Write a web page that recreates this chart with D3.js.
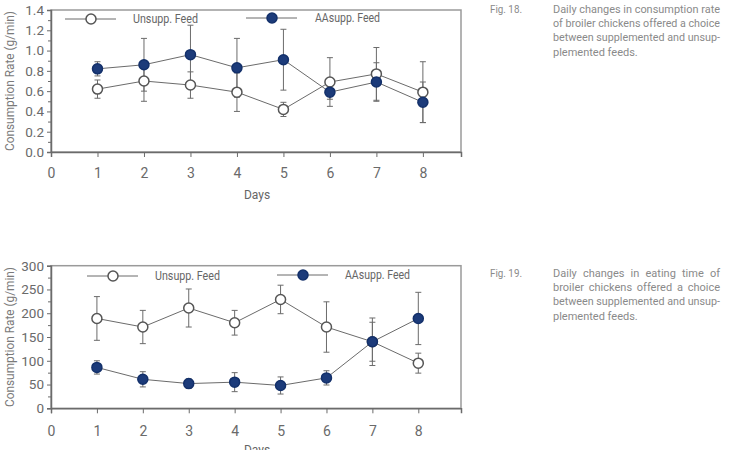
<!DOCTYPE html>
<html>
<head>
<meta charset="utf-8">
<script src="https://cdn.jsdelivr.net/npm/d3@7"></script>
<style>
body { margin: 0; background: #fff; }
svg { display: block; }
</style>
</head>
<body>
<script>
// data
var days = [1, 2, 3, 4, 5, 6, 7, 8];
var dayTicks = [0, 1, 2, 3, 4, 5, 6, 7, 8];

var rateUnsupp = [0.62, 0.70, 0.66, 0.59, 0.42, 0.69, 0.77, 0.59];
var rateUnsuppErr = [0.09, 0.20, 0.13, 0.19, 0.07, 0.24, 0.26, 0.30];
var rateAA = [0.82, 0.86, 0.96, 0.83, 0.91, 0.59, 0.69, 0.49];
var rateAAErr = [0.07, 0.26, 0.29, 0.29, 0.30, 0.07, 0.19, 0.20];
var rateTicks = [0, 0.2, 0.4, 0.6, 0.8, 1.0, 1.2, 1.4];

var timeUnsupp = [189, 171, 211, 180, 229, 171, 140, 95];
var timeUnsuppErr = [46, 35, 40, 26, 30, 53, 50, 21];
var timeAA = [86, 61, 52, 55, 48, 64, 140, 189];
var timeAAErr = [14, 16, 10, 20, 18, 15, 41, 55];
var timeTicks = [0, 50, 100, 150, 200, 250, 300];

var seriesNames = ["Unsupp. Feed", "AAsupp. Feed"];
var yTitle = "Consumption Rate (g/min)";
var xTitle = "Days";

var cap18 = ["Daily changes in consumption rate", "of broiler chickens offered a choice", "between supplemented and unsup-", "plemented feeds."];
var cap19 = ["Daily changes in eating time of", "broiler chickens offered a choice", "between supplemented and unsup-", "plemented feeds."];

var blue = "#1c3b7a";
var grey = "#6b6b6b";
var font = "Roboto, sans-serif";

var svg = d3.select("body").append("svg").attr("width", 740).attr("height", 450);

function panel(p) {
    var x = d3.scaleLinear().domain([0, p.xMax]).range([51, 461]);
    var y = d3.scaleLinear().domain([0, p.yMax]).range([p.bottom, p.top]);
    var g = svg.append("g");

    // frame
    g.append("rect").attr("x", 51).attr("y", p.top).attr("width", 410).attr("height", p.bottom - p.top)
        .attr("fill", "none").attr("stroke", "#9a9a9a").attr("stroke-width", 1.5);

    // y axis + minor ticks
    var minor = [];
    for (var i = 0; i < p.yTicks.length - 1; i++) minor.push((p.yTicks[i] + p.yTicks[i + 1]) / 2);
    var ya = g.append("g").attr("transform", "translate(51,0)")
        .call(d3.axisLeft(y).tickValues(p.yTicks).tickSize(4).tickPadding(3).tickFormat(p.fmt));
    g.append("g").attr("transform", "translate(51,0)")
        .call(d3.axisLeft(y).tickValues(minor).tickSize(3).tickFormat(""))
        .select(".domain").remove();
    var xa = g.append("g").attr("transform", "translate(0," + p.bottom + ")")
        .call(d3.axisBottom(x).tickValues(dayTicks).tickSize(5).tickPadding(p.xPad).tickFormat(d3.format("d")));
    g.selectAll(".domain").attr("stroke", grey).attr("stroke-width", 1.5);
    g.selectAll(".tick line").attr("stroke", grey);
    ya.selectAll("text").attr("font-size", 13.5).attr("fill", "#6a6a6a").attr("font-family", font);
    xa.selectAll("text").attr("font-size", 14).attr("fill", "#6a6a6a").attr("font-family", font);

    g.append("text").attr("transform", "translate(14," + ((p.top + p.bottom) / 2) + ") rotate(-90)")
        .attr("text-anchor", "middle").attr("font-size", 13).attr("fill", "#7a7a7a").attr("font-family", font)
        .attr("textLength", 140).attr("lengthAdjust", "spacingAndGlyphs")
        .text(yTitle);
    g.append("text").attr("x", 257).attr("y", p.bottom + p.daysDy).attr("text-anchor", "middle")
        .attr("font-size", 12).attr("fill", "#666").attr("font-family", font).text(xTitle);

    var line = d3.line().x(function (d, i) { return x(days[i]); }).y(function (d) { return y(d); });
    var series = [
        { v: p.a, e: p.aErr, fill: "#fff", stroke: "#555" },
        { v: p.b, e: p.bErr, fill: blue, stroke: "#13306a" }
    ];

    series.forEach(function (s) {
        var eb = g.append("g").attr("stroke", grey).attr("stroke-width", 1);
        s.v.forEach(function (v, i) {
            var cx = x(days[i]);
            eb.append("line").attr("x1", cx).attr("x2", cx).attr("y1", y(v - s.e[i])).attr("y2", y(v + s.e[i]));
            eb.append("line").attr("x1", cx - 3).attr("x2", cx + 3).attr("y1", y(v - s.e[i])).attr("y2", y(v - s.e[i]));
            eb.append("line").attr("x1", cx - 3).attr("x2", cx + 3).attr("y1", y(v + s.e[i])).attr("y2", y(v + s.e[i]));
        });
    });
    series.forEach(function (s) {
        g.append("path").attr("d", line(s.v)).attr("fill", "none").attr("stroke", grey).attr("stroke-width", 1);
    });
    series.forEach(function (s) {
        g.selectAll(null).data(s.v).enter().append("circle")
            .attr("cx", function (d, i) { return x(days[i]); })
            .attr("cy", function (d) { return y(d); })
            .attr("r", 5).attr("fill", s.fill).attr("stroke", s.stroke).attr("stroke-width", 1.5);
    });

    // legend
    p.legend.forEach(function (L, k) {
        var s = series[k];
        g.append("line").attr("x1", L.x).attr("x2", L.x + 51).attr("y1", L.y).attr("y2", L.y)
            .attr("stroke", grey).attr("stroke-width", 1);
        g.append("circle").attr("cx", L.x + 26).attr("cy", L.y).attr("r", 5)
            .attr("fill", s.fill).attr("stroke", s.stroke).attr("stroke-width", 1.5);
        g.append("text").attr("x", L.tx).attr("y", L.y + 4).attr("font-size", 12).attr("fill", "#666")
            .attr("font-family", font).attr("textLength", 65).attr("lengthAdjust", "spacingAndGlyphs")
            .text(seriesNames[k]);
    });
}

panel({
    top: 10, bottom: 152, xMax: 8.82, yMax: 1.4, yTicks: rateTicks, fmt: d3.format(".1f"), daysDy: 47, xPad: 11,
    a: rateUnsupp, aErr: rateUnsuppErr, b: rateAA, bErr: rateAAErr,
    legend: [{ x: 65, y: 19, tx: 133 }, { x: 246, y: 18, tx: 315 }]
});
panel({
    top: 265.7, bottom: 408.3, xMax: 8.93, yMax: 300, yTicks: timeTicks, fmt: d3.format("d"), daysDy: 46, xPad: 13,
    a: timeUnsupp, aErr: timeUnsuppErr, b: timeAA, bErr: timeAAErr,
    legend: [{ x: 87, y: 276, tx: 155 }, { x: 277, y: 275, tx: 345 }]
});

// captions: justified by word spacing, squeezed a little where a line is too long
function caption(label, lines, top) {
    var c = svg.append("g").attr("font-family", font).attr("font-size", 11).attr("fill", "#8a8a8a");
    c.append("text").attr("x", 490).attr("y", top).attr("textLength", 32)
        .attr("lengthAdjust", "spacingAndGlyphs").text(label);
    lines.forEach(function (t, i) {
        var el = c.append("text").attr("x", 553).attr("y", top + i * 14.2).text(t);
        if (i === lines.length - 1) return;
        var w = el.node().getComputedTextLength();
        var gaps = t.split(" ").length - 1;
        if (w < 167) {
            el.attr("word-spacing", (167 - w) / gaps);
        } else {
            el.attr("textLength", 167).attr("lengthAdjust", "spacingAndGlyphs");
        }
    });
}
caption("Fig. 18.", cap18, 13);
caption("Fig. 19.", cap19, 277);
</script>
</body>
</html>
